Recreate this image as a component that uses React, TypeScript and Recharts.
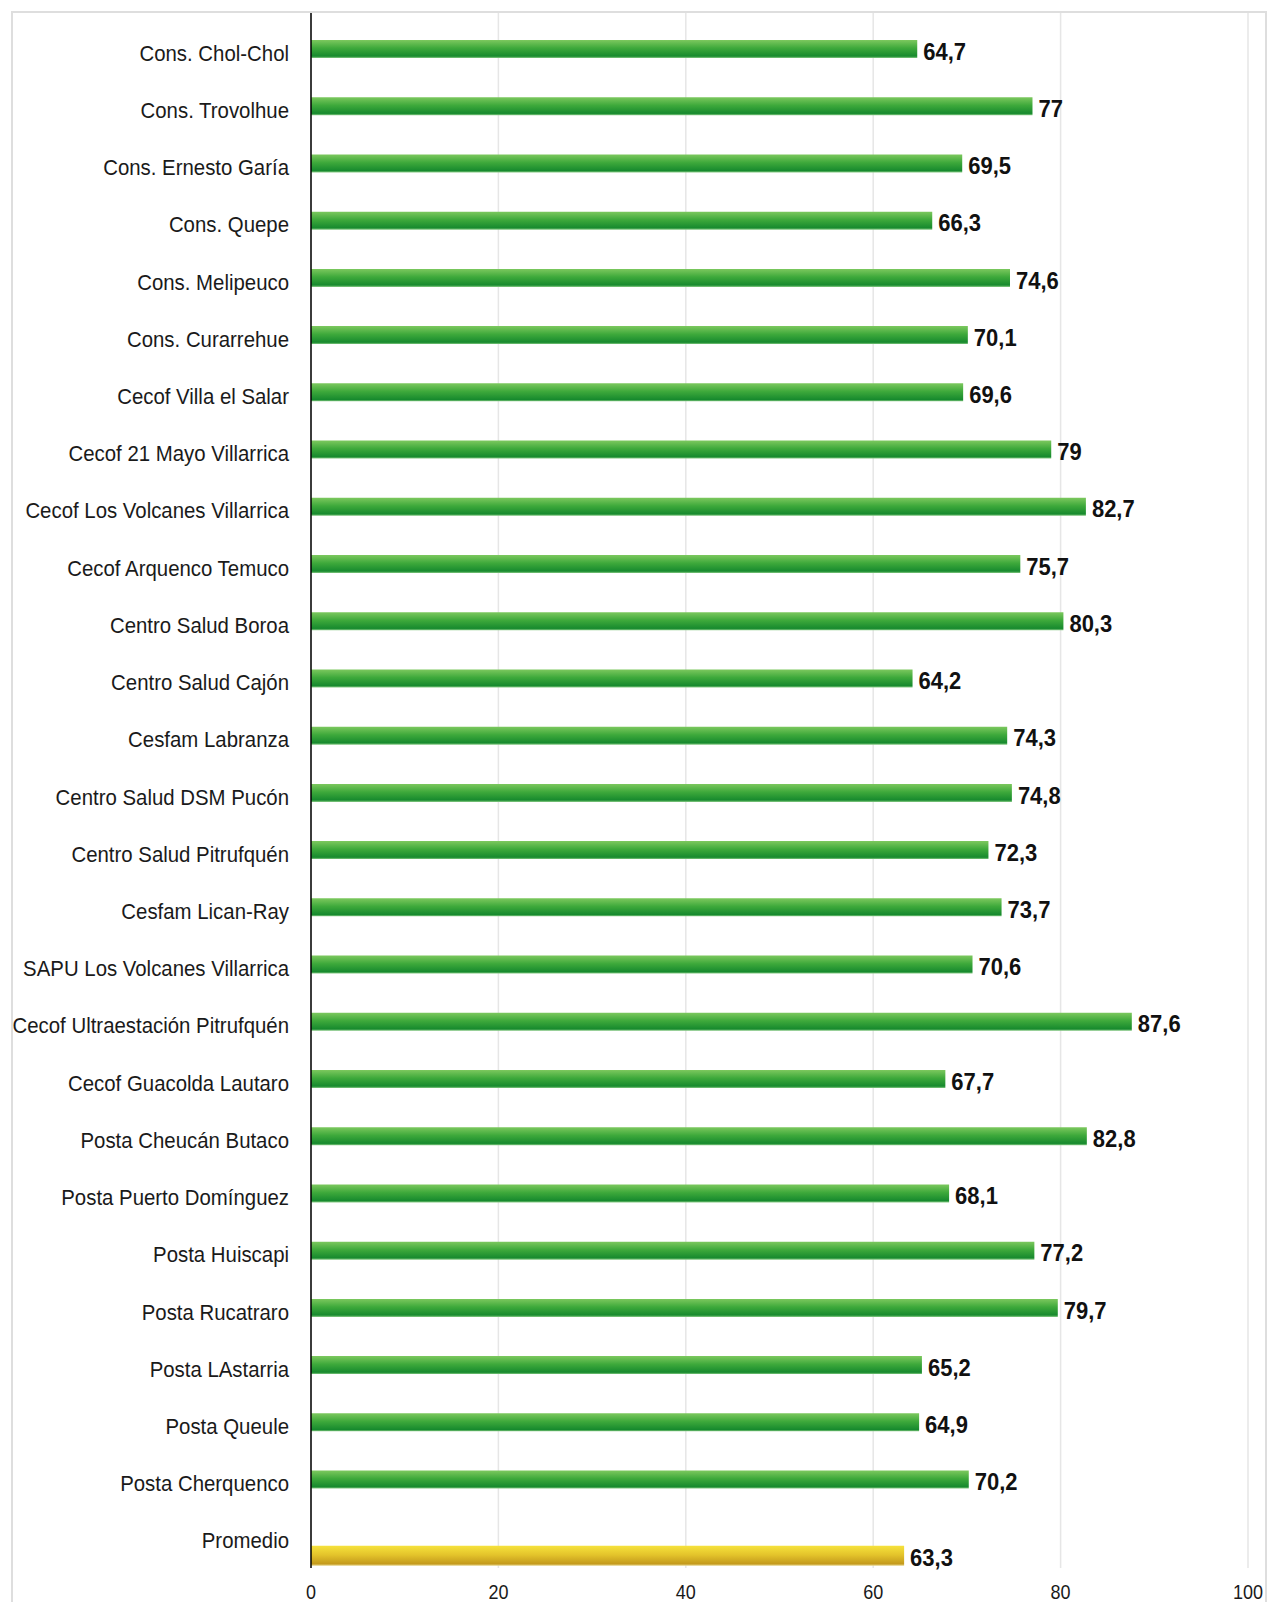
import React from "react";
import { BarChart, Bar, XAxis, YAxis, CartesianGrid, LabelList } from "recharts";

const categories = [
  "Cons. Chol-Chol",
  "Cons. Trovolhue",
  "Cons. Ernesto Garía",
  "Cons. Quepe",
  "Cons. Melipeuco",
  "Cons. Curarrehue",
  "Cecof Villa el Salar",
  "Cecof 21 Mayo Villarrica",
  "Cecof Los Volcanes Villarrica",
  "Cecof Arquenco Temuco",
  "Centro Salud Boroa",
  "Centro Salud Cajón",
  "Cesfam Labranza",
  "Centro Salud DSM Pucón",
  "Centro Salud Pitrufquén",
  "Cesfam Lican-Ray",
  "SAPU Los Volcanes Villarrica",
  "Cecof Ultraestación Pitrufquén",
  "Cecof Guacolda Lautaro",
  "Posta Cheucán Butaco",
  "Posta Puerto Domínguez",
  "Posta Huiscapi",
  "Posta Rucatraro",
  "Posta LAstarria",
  "Posta Queule",
  "Posta Cherquenco",
];
const values = [
  64.7, 77, 69.5, 66.3, 74.6, 70.1, 69.6, 79, 82.7, 75.7, 80.3, 64.2, 74.3,
  74.8, 72.3, 73.7, 70.6, 87.6, 67.7, 82.8, 68.1, 77.2, 79.7, 65.2, 64.9, 70.2,
];
const averageLabel = "Promedio";
const averageValue = 63.3;
const xTicks = [0, 20, 40, 60, 80, 100];

const data: any[] = categories
  .map((c, i) => ({ name: c, valor: values[i] }))
  .concat([{ name: averageLabel, promedio: averageValue } as any]);

const FONT = "'Liberation Sans', Arial, Helvetica, sans-serif";

const fmt = (v: any) => String(v).replace(".", ",");

const YTick = (props: any) => {
  const { x, y, payload } = props;
  return (
    <g transform={`translate(${x},${y - 6}) scale(1,1.12)`}>
      <text x={0} y={0} dy="0.35em" textAnchor="end" fontSize={20.4} fill="#1a1a1a" fontFamily={FONT}>
        {payload.value}
      </text>
    </g>
  );
};

const XTick = (props: any) => {
  const { x, payload } = props;
  return (
    <g transform={`translate(${x},1592) scale(1,1.08)`}>
      <text x={0} y={0} dy="0.35em" textAnchor="middle" fontSize={18} fill="#1a1a1a" fontFamily={FONT}>
        {payload.value}
      </text>
    </g>
  );
};

const ValueLabel = (props: any) => {
  const { x, y, width, height, value } = props;
  if (value === undefined || value === null) return null;
  return (
    <g transform={`translate(${x + width + 6},${y + height / 2 + 2}) scale(1,1.12)`}>
      <text x={0} y={0} dy="0.35em" textAnchor="start" fontSize={22} fontWeight="bold" fill="#111" fontFamily={FONT}>
        {fmt(value)}
      </text>
    </g>
  );
};

export default function App() {
  return (
    <div style={{ position: "fixed", left: 0, top: 0, width: 1267, height: 1602, background: "#fff" }}>
      <div
        style={{
          position: "absolute",
          left: 11,
          top: 11,
          width: 1256,
          height: 1600,
          boxSizing: "border-box",
          borderLeft: "2px solid #dedede",
          borderTop: "2px solid #dedede",
          borderRight: "2px solid #dedede",
        }}
      />
      <div style={{ position: "absolute", left: 0, top: 0 }}>
        <BarChart
          width={1267}
          height={1602}
          data={data}
          layout="vertical"
          margin={{ top: 13, right: 19, bottom: 4, left: 0 }}
          barGap={0}
        >
          <defs>
            <linearGradient id="gGreen" x1="0" y1="0" x2="0" y2="1">
              <stop offset="0%" stopColor="#7cc85e" />
              <stop offset="45%" stopColor="#3ea93b" />
              <stop offset="90%" stopColor="#178a2e" />
              <stop offset="100%" stopColor="#86c983" />
            </linearGradient>
            <linearGradient id="gYellow" x1="0" y1="0" x2="0" y2="1">
              <stop offset="0%" stopColor="#f6e23c" />
              <stop offset="45%" stopColor="#e4c42b" />
              <stop offset="90%" stopColor="#c49a1c" />
              <stop offset="100%" stopColor="#e6d68c" />
            </linearGradient>
          </defs>
          <CartesianGrid horizontal={false} stroke="#e6e6e6" strokeWidth={1.5} />
          <XAxis
            type="number"
            domain={[0, 100]}
            ticks={xTicks}
            axisLine={false}
            tickLine={false}
            height={30}
            tick={<XTick />}
            interval={0}
          />
          <YAxis
            type="category"
            dataKey="name"
            width={311}
            axisLine={{ stroke: "#000", strokeWidth: 1.5 }}
            tickLine={false}
            tickSize={0}
            tickMargin={22}
            tick={<YTick />}
            interval={0}
            padding={{ top: 17, bottom: -7 }}
          />
          <Bar dataKey="valor" barSize={18} fill="url(#gGreen)" isAnimationActive={false}>
            <LabelList dataKey="valor" content={<ValueLabel />} />
          </Bar>
          <Bar dataKey="promedio" barSize={20} fill="url(#gYellow)" isAnimationActive={false}>
            <LabelList dataKey="promedio" content={<ValueLabel />} />
          </Bar>
        </BarChart>
      </div>
    </div>
  );
}
